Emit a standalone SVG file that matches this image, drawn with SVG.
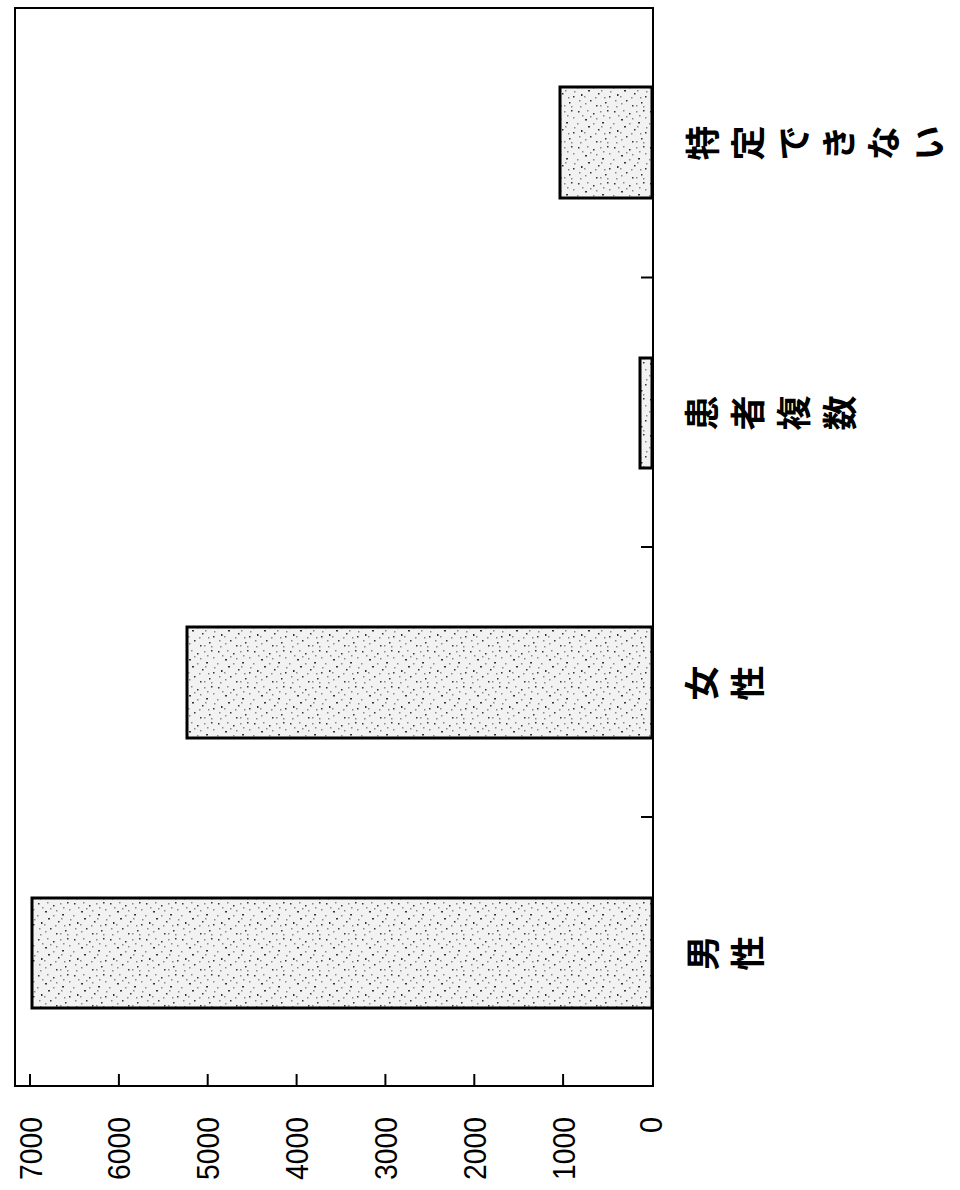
<svg xmlns="http://www.w3.org/2000/svg" width="960" height="1190" viewBox="0 0 960 1190">
  <style>
    .frame { fill: none; stroke: #000; stroke-width: 2; }
    .tick { stroke: #000; stroke-width: 2; }
    .bar { fill: url(#stipple); stroke: #000; stroke-width: 3; }
    .val { font-family: "Liberation Sans", Arial, sans-serif; font-size: 32px; fill: #000; }
    .cat { font-family: "Noto Sans CJK JP", "Noto Sans CJK SC", sans-serif; font-size: 35px; font-weight: bold; fill: #000; }
  </style>
  <defs>
    <pattern id="stipple" width="36" height="36" patternUnits="userSpaceOnUse">
      <rect width="36" height="36" fill="#f2f2f2"/>
      <g fill="#333">
        <rect x="2" y="3" width="1.5" height="1.5"/>
        <rect x="9" y="11" width="2" height="1.5"/>
        <rect x="17" y="5" width="1.5" height="1.5"/>
        <rect x="26" y="14" width="2" height="1.5"/>
        <rect x="31" y="2" width="1.5" height="1.5"/>
        <rect x="5" y="22" width="1.5" height="2"/>
        <rect x="14" y="28" width="1.5" height="1.5"/>
        <rect x="22" y="21" width="1.5" height="1.5"/>
        <rect x="29" y="30" width="1.5" height="1.5"/>
        <rect x="12" y="18" width="2" height="1.5"/>
        <rect x="33" y="24" width="1.5" height="1.5"/>
        <rect x="20" y="33" width="1.5" height="1.5"/>
      </g>
      <g fill="#8a8a8a">
        <rect x="6" y="7" width="1.5" height="1.5"/>
        <rect x="20" y="10" width="1.5" height="1.5"/>
        <rect x="33" y="9" width="1.5" height="1.5"/>
        <rect x="1" y="15" width="1.5" height="1.5"/>
        <rect x="17" y="15" width="1.5" height="1.5"/>
        <rect x="28" y="25" width="1.5" height="1.5"/>
        <rect x="9" y="31" width="1.5" height="1.5"/>
        <rect x="24" y="33" width="1.5" height="1.5"/>
        <rect x="3" y="28" width="1.5" height="1.5"/>
        <rect x="19" y="25" width="1.5" height="1.5"/>
        <rect x="34" y="19" width="1.5" height="1.5"/>
        <rect x="11" y="2" width="1.5" height="1.5"/>
        <rect x="24" y="3" width="1.5" height="1.5"/>
        <rect x="8" y="24" width="1.5" height="1.5"/>
        <rect x="31" y="34" width="1.5" height="1.5"/>
        <rect x="14" y="8" width="1.5" height="1.5"/>
        <rect x="27" y="7" width="1.5" height="1.5"/>
        <rect x="4" y="34" width="1.5" height="1.5"/>
        <rect x="25" y="18" width="1.5" height="1.5"/>
      </g>
    </pattern>
  </defs>

  <rect width="960" height="1190" fill="#fff"/>

  <g id="chart-frame">
    <rect class="frame" x="15" y="8" width="638" height="1078"/>
  </g>

  <g id="value-axis">
    <line class="tick" x1="30" y1="1074" x2="30" y2="1086"/>
    <line class="tick" x1="118.9" y1="1074" x2="118.9" y2="1086"/>
    <line class="tick" x1="207.7" y1="1074" x2="207.7" y2="1086"/>
    <line class="tick" x1="296.6" y1="1074" x2="296.6" y2="1086"/>
    <line class="tick" x1="385.4" y1="1074" x2="385.4" y2="1086"/>
    <line class="tick" x1="474.3" y1="1074" x2="474.3" y2="1086"/>
    <line class="tick" x1="563.1" y1="1074" x2="563.1" y2="1086"/>
    <text class="val" text-anchor="end" textLength="63" lengthAdjust="spacingAndGlyphs" transform="translate(41.5,1117) rotate(-90)">7000</text>
    <text class="val" text-anchor="end" textLength="63" lengthAdjust="spacingAndGlyphs" transform="translate(130.4,1117) rotate(-90)">6000</text>
    <text class="val" text-anchor="end" textLength="63" lengthAdjust="spacingAndGlyphs" transform="translate(219.2,1117) rotate(-90)">5000</text>
    <text class="val" text-anchor="end" textLength="63" lengthAdjust="spacingAndGlyphs" transform="translate(308.1,1117) rotate(-90)">4000</text>
    <text class="val" text-anchor="end" textLength="63" lengthAdjust="spacingAndGlyphs" transform="translate(396.9,1117) rotate(-90)">3000</text>
    <text class="val" text-anchor="end" textLength="63" lengthAdjust="spacingAndGlyphs" transform="translate(485.8,1117) rotate(-90)">2000</text>
    <text class="val" text-anchor="end" textLength="63" lengthAdjust="spacingAndGlyphs" transform="translate(574.6,1117) rotate(-90)">1000</text>
    <text class="val" text-anchor="end" textLength="16" lengthAdjust="spacingAndGlyphs" transform="translate(661.5,1117) rotate(-90)">0</text>
  </g>

  <g id="category-axis">
    <line class="tick" x1="641" y1="277.5" x2="653" y2="277.5"/>
    <line class="tick" x1="641" y1="547" x2="653" y2="547"/>
    <line class="tick" x1="641" y1="817" x2="653" y2="817"/>
  </g>

  <g id="cat-tokutei">
    <rect class="bar" x="560" y="87" width="92" height="111"/>
    <text class="cat" text-anchor="middle" dominant-baseline="central" x="700" y="143" transform="rotate(-90 700 143)">特</text>
    <text class="cat" text-anchor="middle" dominant-baseline="central" x="745" y="143" transform="rotate(-90 745 143)">定</text>
    <text class="cat" text-anchor="middle" dominant-baseline="central" x="791" y="143" transform="rotate(-90 791 143)">で</text>
    <text class="cat" text-anchor="middle" dominant-baseline="central" x="836" y="143" transform="rotate(-90 836 143)">き</text>
    <text class="cat" text-anchor="middle" dominant-baseline="central" x="881" y="143" transform="rotate(-90 881 143)">な</text>
    <text class="cat" text-anchor="middle" dominant-baseline="central" x="926" y="143" transform="rotate(-90 926 143)">い</text>
  </g>

  <g id="cat-kanja-fukusu">
    <rect class="bar" x="640" y="358" width="12" height="110"/>
    <text class="cat" text-anchor="middle" dominant-baseline="central" x="699" y="413" transform="rotate(-90 699 413)">患</text>
    <text class="cat" text-anchor="middle" dominant-baseline="central" x="745" y="413" transform="rotate(-90 745 413)">者</text>
    <text class="cat" text-anchor="middle" dominant-baseline="central" x="791" y="413" transform="rotate(-90 791 413)">複</text>
    <text class="cat" text-anchor="middle" dominant-baseline="central" x="837" y="413" transform="rotate(-90 837 413)">数</text>
  </g>

  <g id="cat-josei">
    <rect class="bar" x="187" y="627" width="465" height="111"/>
    <text class="cat" text-anchor="middle" dominant-baseline="central" x="699" y="683" transform="rotate(-90 699 683)">女</text>
    <text class="cat" text-anchor="middle" dominant-baseline="central" x="745" y="683" transform="rotate(-90 745 683)">性</text>
  </g>

  <g id="cat-dansei">
    <rect class="bar" x="32" y="898" width="620" height="110"/>
    <text class="cat" text-anchor="middle" dominant-baseline="central" x="700" y="953" transform="rotate(-90 700 953)">男</text>
    <text class="cat" text-anchor="middle" dominant-baseline="central" x="745" y="953" transform="rotate(-90 745 953)">性</text>
  </g>
</svg>
